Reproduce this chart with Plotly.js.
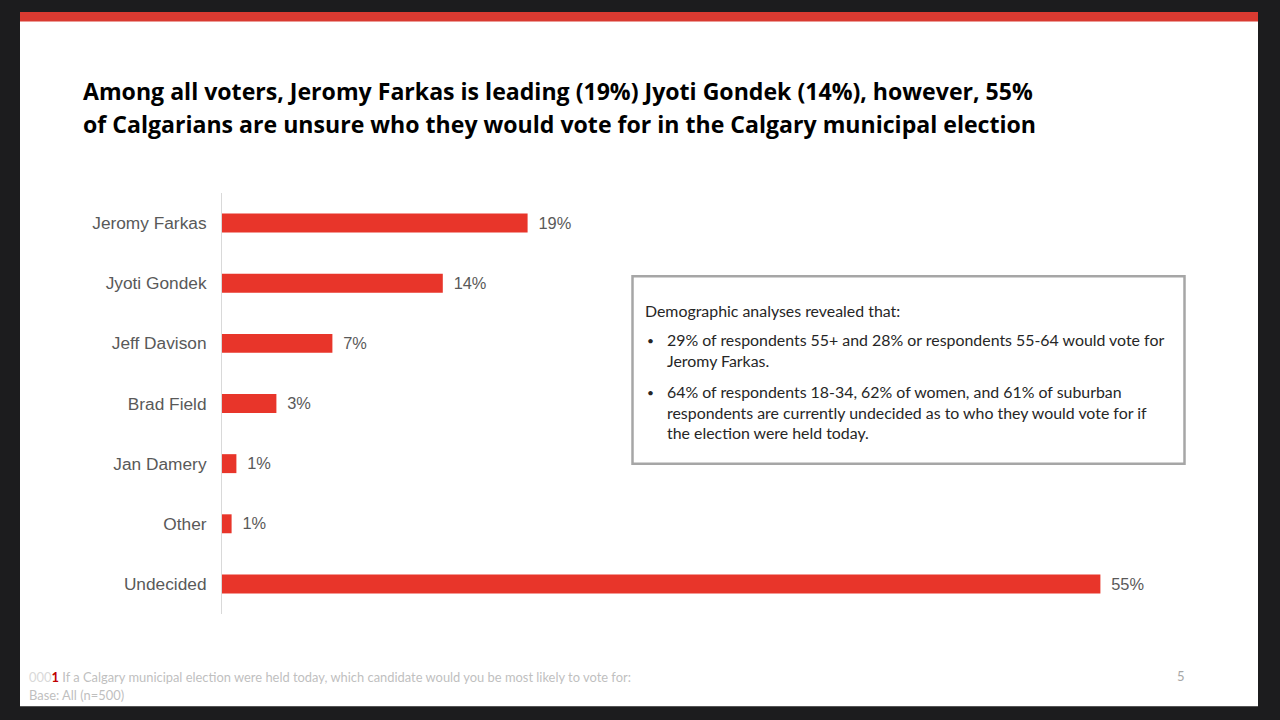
<!DOCTYPE html>
<html>
<head>
<meta charset="utf-8">
<script src="https://cdn.plot.ly/plotly-3.0.1.min.js"></script>
<style>
  html, body { margin: 0; padding: 0; background: #1c1c1e; }
  #chart { width: 1280px; height: 720px; }
</style>
</head>
<body>
<div id="chart"></div>
<script>
// ---- data ----
const categories = ['Jeromy Farkas', 'Jyoti Gondek', 'Jeff Davison', 'Brad Field', 'Jan Damery', 'Other', 'Undecided'];
const shares = [19.1, 13.8, 6.9, 3.4, 0.9, 0.6, 54.9];
const titleLines = [
  'Among all voters, Jeromy Farkas is leading (19%) Jyoti Gondek (14%), however, 55%',
  'of Calgarians are unsure who they would vote for in the Calgary municipal election'
];
const boxHeader = 'Demographic analyses revealed that:';
const boxBullets = [
  '29% of respondents 55+ and 28% or respondents 55-64 would vote for<br>Jeromy Farkas.',
  '64% of respondents 18-34, 62% of women, and 61% of suburban<br>respondents are currently undecided as to who they would vote for if<br>the election were held today.'
];
const footnote1 = '<span style="color:#c00000;font-weight:bold">1</span> If a Calgary municipal election were held today, which candidate would you be most likely to vote for:';
const footnote2 = 'Base: All (n=500)';
const pageNumber = '5';

// ---- geometry helpers (pixel -> paper) ----
const M = {l: 222, r: 58, t: 192.5, b: 105.5};
const W = 1280 - M.l - M.r, H = 720 - M.t - M.b;
const px = x => (x - M.l) / W;
const py = y => (720 - M.b - y) / H;

const trace = {
  type: 'bar',
  orientation: 'h',
  x: shares,
  y: categories,
  marker: {color: '#e8352a'},
  texttemplate: '\u00a0\u2009%{x:.0f}%',
  textposition: 'outside',
  cliponaxis: false,
  textfont: {family: 'Liberation Sans, Arial, sans-serif', size: 17.3, color: '#595959'},
  hoverinfo: 'skip'
};

const ann = (x, y, text, font, extra) => Object.assign({
  xref: 'paper', yref: 'paper', x: px(x), y: py(y), text: text,
  showarrow: false, xanchor: 'left', yanchor: 'middle', align: 'left', font: font
}, extra || {});

const titleFont = {family: 'Open Sans, sans-serif', size: 23.1, color: '#000000', weight: 700};
const boxFont = {family: 'Lato, sans-serif', size: 15.9, color: '#262626'};
const bulletFont = {family: 'Lato, sans-serif', size: 12, color: '#262626'};
const footFont = {family: 'Lato, sans-serif', size: 12.9, color: '#bfbfbf'};

const layout = {
  width: 1280, height: 720,
  margin: M,
  paper_bgcolor: '#1c1c1e',
  plot_bgcolor: 'rgba(0,0,0,0)',
  showlegend: false,
  bargap: 0.685,
  xaxis: {range: [0, W / 16], visible: false, fixedrange: true},
  yaxis: {
    type: 'category', range: [6.5, -0.5],
    showline: true, linecolor: '#d9d9d9', linewidth: 1,
    showgrid: false, zeroline: false, ticks: '',
    ticklabelstandoff: 11,
    tickfont: {family: 'Liberation Sans, Arial, sans-serif', size: 17.3, color: '#595959'},
    fixedrange: true
  },
  shapes: [
    // white slide
    {type: 'rect', xref: 'paper', yref: 'paper', x0: px(20), x1: px(1258), y0: py(11), y1: py(707),
     fillcolor: '#ffffff', line: {width: 0}, layer: 'below'},
    // red top band
    {type: 'rect', xref: 'paper', yref: 'paper', x0: px(20), x1: px(1258), y0: py(11), y1: py(20.5),
     fillcolor: '#d93a31', line: {width: 0}, layer: 'below'},
    // text box
    {type: 'rect', xref: 'paper', yref: 'paper', x0: px(632.5), x1: px(1184.5), y0: py(276), y1: py(464),
     fillcolor: '#ffffff', line: {color: '#a6a6a6', width: 2.5}, layer: 'above'}
  ],
  annotations: [
    ann(81, 90, titleLines[0], titleFont),
    ann(81, 123, titleLines[1], titleFont),
    ann(643, 310, boxHeader, boxFont),
    ann(645, 340, '•', bulletFont),
    ann(665, 349.5, boxBullets[0], boxFont),
    ann(645, 392, '•', bulletFont),
    ann(665, 412, boxBullets[1], boxFont),
    ann(27, 678, '<span style="color:#d9d9d9">000</span>' + footnote1, footFont),
    ann(27, 696, footnote2, footFont),
    ann(1175, 677, pageNumber, {family: 'Lato, sans-serif', size: 13, color: '#a6a6a6'})
  ]
};

Plotly.newPlot('chart', [trace], layout, {displayModeBar: false, staticPlot: true});
</script>
</body>
</html>
